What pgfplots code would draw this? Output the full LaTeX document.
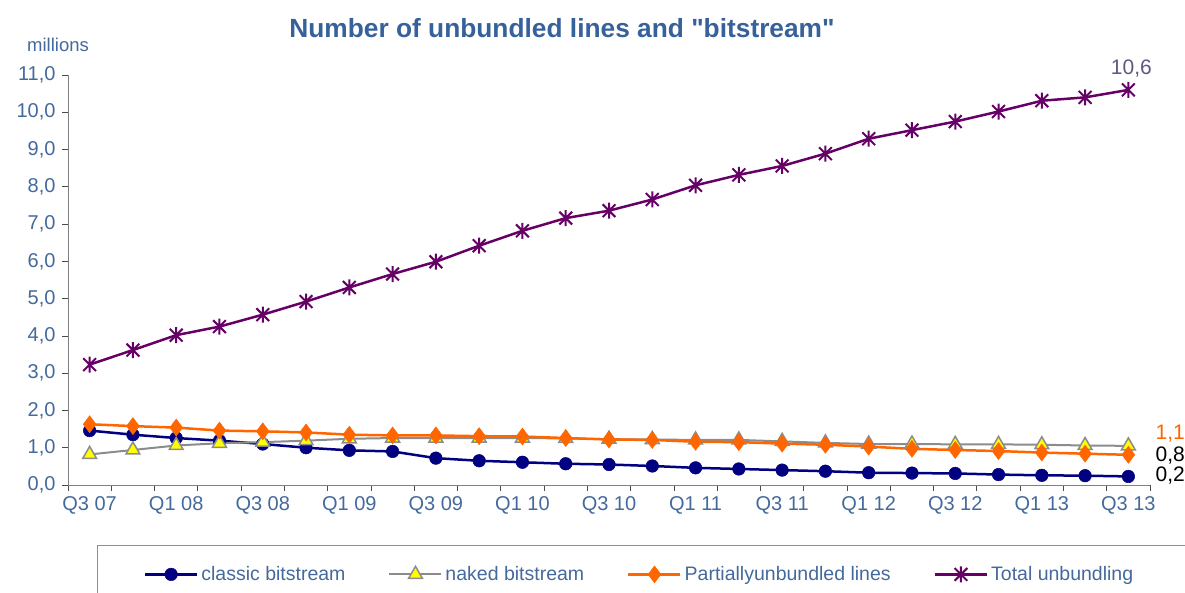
\documentclass[border=0pt]{standalone}
\usepackage{pgfplots}
\usepackage{pgfplotstable}
\pgfplotsset{compat=1.18}
\usepackage{fontspec}
\setmainfont{Liberation Sans}[Ligatures=TeXOff]

\definecolor{titleblue}{HTML}{37619B}
\definecolor{tickblue}{HTML}{44699C}
\definecolor{classic}{HTML}{000080}
\definecolor{naked}{HTML}{8C8C8C}
\definecolor{nakedfill}{HTML}{FFFF00}
\definecolor{partial}{HTML}{FF6600}
\definecolor{total}{HTML}{660066}
\definecolor{totallabel}{HTML}{5F5882}
\definecolor{axisgray}{HTML}{808080}

% star marker: vertical bar plus a cross
\pgfdeclareplotmark{xstar}{%
  \pgfpathmoveto{\pgfqpoint{0pt}{\pgfplotmarksize}}%
  \pgfpathlineto{\pgfqpoint{0pt}{-\pgfplotmarksize}}%
  \pgfpathmoveto{\pgfqpoint{-.8\pgfplotmarksize}{.8\pgfplotmarksize}}%
  \pgfpathlineto{\pgfqpoint{.8\pgfplotmarksize}{-.8\pgfplotmarksize}}%
  \pgfpathmoveto{\pgfqpoint{-.8\pgfplotmarksize}{-.8\pgfplotmarksize}}%
  \pgfpathlineto{\pgfqpoint{.8\pgfplotmarksize}{.8\pgfplotmarksize}}%
  \pgfusepathqstroke}

% quarterly figures, millions of lines (Q3 07 ... Q3 13)
\pgfplotstableread{
idx classic naked partial total
0  1.46 0.82 1.63 3.23
1  1.35 0.94 1.58 3.62
2  1.26 1.06 1.54 4.02
3  1.19 1.12 1.46 4.25
4  1.10 1.15 1.44 4.57
5  1.00 1.19 1.41 4.92
6  0.93 1.24 1.35 5.30
7  0.90 1.26 1.33 5.66
8  0.72 1.26 1.33 5.99
9  0.65 1.26 1.31 6.42
10 0.61 1.26 1.30 6.82
11 0.57 1.25 1.26 7.16
12 0.55 1.23 1.22 7.36
13 0.51 1.22 1.21 7.66
14 0.46 1.21 1.16 8.04
15 0.43 1.21 1.15 8.32
16 0.40 1.17 1.11 8.56
17 0.37 1.13 1.08 8.89
18 0.33 1.10 1.03 9.29
19 0.32 1.10 0.97 9.52
20 0.31 1.09 0.94 9.75
21 0.28 1.09 0.91 10.02
22 0.26 1.08 0.87 10.31
23 0.25 1.06 0.84 10.40
24 0.23 1.05 0.81 10.60
}\unbundling

\begin{document}
\begin{tikzpicture}[x=1pt,y=1pt]
\useasboundingbox (0,0) rectangle (1185,592);
\clip (0,0) rectangle (1185,592);

\node[font=\fontsize{26.3}{30}\selectfont\bfseries, text=titleblue] at (562,564)
  {Number of unbundled lines and "bitstream"};
\node[font=\fontsize{18.5}{22}\selectfont, text=tickblue] at (58,547) {millions};

% legend frame, running past the picture edge
\draw[axisgray!90, line width=0.9pt] (97,47) rectangle (1210,-20);

\begin{axis}[
  at={(68pt,107pt)}, anchor=south west,
  scale only axis, width=1082pt, height=410pt,
  xmin=-0.5, xmax=24.5, ymin=0, ymax=11,
  axis x line=bottom, axis y line=left,
  axis line style={axisgray, line width=1pt, -},
  xtick={-0.5,0.5,...,24.5}, xticklabels={},
  extra x ticks={0,2,...,24},
  extra x tick labels={Q3 07,Q1 08,Q3 08,Q1 09,Q3 09,Q1 10,Q3 10,Q1 11,Q3 11,Q1 12,Q3 12,Q1 13,Q3 13},
  extra x tick style={major tick length=0pt, tick style={draw=none}},
  ytick={0,1,...,11},
  tick style={black!70, line width=0.8pt},
  major tick length=6pt,
  tick align=outside,
  xtick pos=bottom, ytick pos=left,
  ticklabel style={font=\fontsize{20}{24}\selectfont, text=tickblue},
  xticklabel style={yshift=-8pt},
  yticklabel style={xshift=-3pt},
  /pgf/number format/.cd, fixed, fixed zerofill, precision=1, use comma, assume math mode=true,
  /pgfplots/.cd,
  clip=false,
  legend columns=4,
  legend style={draw=none, fill=none, at={(0.5287,-0.218)}, anchor=center,
    font=\fontsize{19.5}{23}\selectfont, text=tickblue,
    nodes={inner sep=3pt},
    /tikz/every even column/.append style={column sep=40pt}},
  legend image code/.code={%
    \draw[mark repeat=2, mark phase=2, #1] plot coordinates {(0pt,0pt) (26pt,0pt) (52pt,0pt)};},
]
\addplot[classic, line width=2.5pt, mark=*, mark size=6.3pt, mark options={fill=classic, draw=classic, line width=0.5pt}]
  table[x=idx, y=classic] {\unbundling};
\addlegendentry{classic bitstream}
\addplot[naked, line width=2pt, mark=triangle*, mark size=8pt, mark options={fill=nakedfill, draw=naked, line width=1.5pt}]
  table[x=idx, y=naked] {\unbundling};
\addlegendentry{naked bitstream}
\addplot[partial, line width=2.5pt, mark=diamond*, mark size=8.5pt, mark options={fill=partial, draw=partial, line width=0.5pt}]
  table[x=idx, y=partial] {\unbundling};
\addlegendentry{Partiallyunbundled lines}
\addplot[total, line width=2.5pt, mark=xstar, mark size=8pt, mark options={draw=total, line width=2pt}]
  table[x=idx, y=total] {\unbundling};
\addlegendentry{Total unbundling}

\node[font=\fontsize{21}{24}\selectfont, text=totallabel, anchor=south] at (axis cs:24,10.6) [xshift=3pt, yshift=9pt] {10,6};
\node[font=\fontsize{21}{24}\selectfont, text=partial, anchor=west] at (axis cs:24.55,1.38) {1,1};
\node[font=\fontsize{21}{24}\selectfont, text=black, anchor=west] at (axis cs:24.55,0.8) {0,8};
\node[font=\fontsize{21}{24}\selectfont, text=black, anchor=west] at (axis cs:24.55,0.26) {0,2};
\end{axis}
\end{tikzpicture}
\end{document}
